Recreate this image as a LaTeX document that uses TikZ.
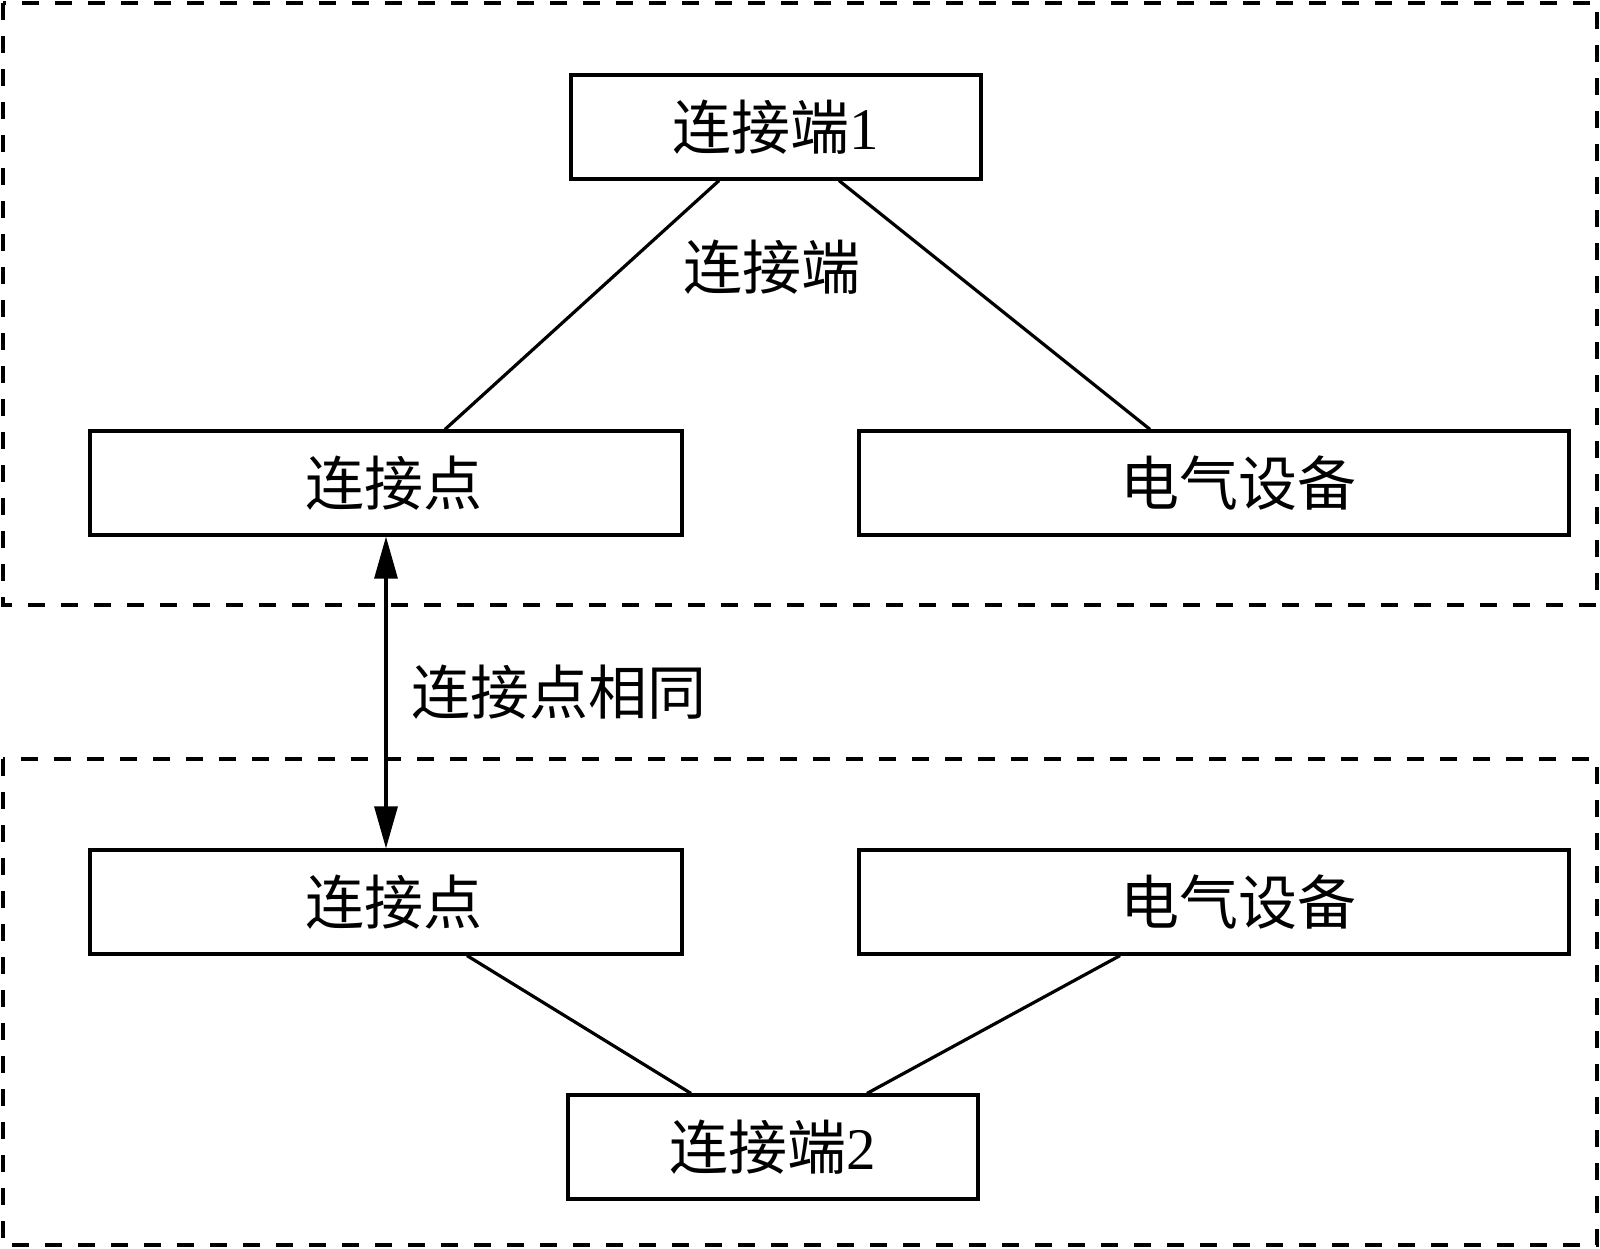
\documentclass[tikz,border=0pt]{standalone}
\usepackage{fontspec}
\setmainfont{Liberation Serif}
\newfontfamily\cjk{Noto Sans CJK SC}
\usetikzlibrary{arrows.meta}

\tikzset{
  box/.style={draw, line width=1.6pt, minimum height=52pt, inner sep=0pt, font=\fontsize{29.5}{34}\selectfont},
  txt/.style={inner sep=0pt, font=\fontsize{29.5}{34}\selectfont},
  frame/.style={line width=1.6pt, dash pattern=on 8.5pt off 8pt},
  link/.style={line width=1.6pt}
}

\begin{document}
\begin{tikzpicture}[x=0.5pt, y=-0.5pt]
  \useasboundingbox (0,0) rectangle (1600,1248);

  % dashed groups
  \draw[frame] (3,3) rectangle (1597,605);
  \draw[frame] (3,759) rectangle (1597,1245);

  % upper group
  \node[box, minimum width=205pt] (t1) at (776,127) {{\cjk 连接端}1};
  \node[box, minimum width=296pt] (p1) at (386,483) {\hspace*{8pt}\cjk 连接点};
  \node[box, minimum width=355pt] (d1) at (1214,483) {\hspace*{24pt}\cjk 电气设备};

  % lower group
  \node[box, minimum width=296pt] (p2) at (386,902) {\hspace*{8pt}\cjk 连接点};
  \node[box, minimum width=355pt] (d2) at (1214,902) {\hspace*{24pt}\cjk 电气设备};
  \node[box, minimum width=205pt] (t2) at (773,1147) {{\cjk 连接端}2};

 \draw[link] ([xshift=-28.5pt]t1.south) -- ([xshift=29.5pt]p1.north);
 \draw[link] ([xshift=31.5pt]t1.south) -- ([xshift=-32pt]d1.north);
 \draw[link] ([xshift=40.5pt]p2.south) -- ([xshift=-41pt]t2.north);
 \draw[link] ([xshift=-47pt]d2.south) -- ([xshift=47pt]t2.north);

 \draw[link, {Triangle[length=21pt,width=11.5pt]}-{Triangle[length=21pt,width=11.5pt]}] (p1.south) -- (p2.north);

\node[txt] (lt) at (772,267) {\cjk 连接端};
\node[txt, anchor=west] (ls) at (411,692) {\cjk 连接点相同};

\end{tikzpicture}
\end{document}
